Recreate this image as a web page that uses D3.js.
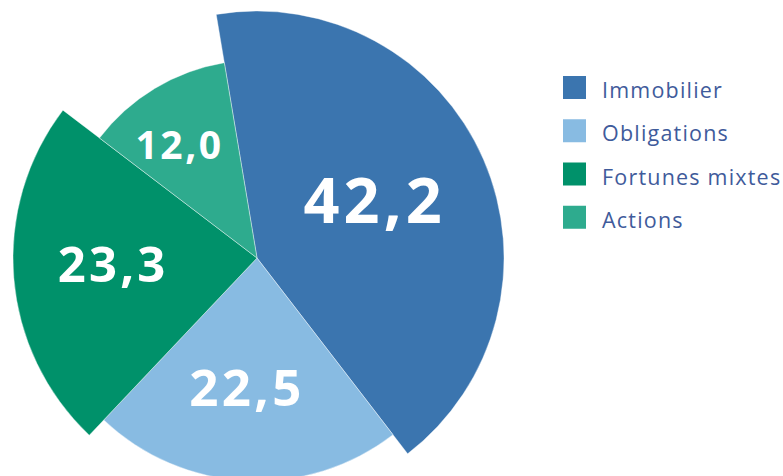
<!DOCTYPE html>
<html><head><meta charset="utf-8">
<script src="https://cdn.jsdelivr.net/npm/d3@7"></script>
<style>
html,body{margin:0;padding:0;background:#fff;}
svg{display:block;}
</style></head>
<body>
<svg id="chart" width="783" height="476"></svg>
<script>
const categories = ["Immobilier", "Obligations", "Fortunes mixtes", "Actions"];
const values = [42.2, 22.5, 23.3, 12.0];
const labels = ["42,2", "22,5", "23,3", "12,0"];
const radii = [247, 223, 244, 198];
const colors = ["#3b75af", "#88bbe2", "#00916a", "#2eab8e"];

const svg = d3.select("#chart");
const cx = 257, cy = 258;
const startDeg = -9.5;
const startRad = startDeg * Math.PI / 180;

const pie = d3.pie().sort(null).value(d => d)
  .startAngle(startRad).endAngle(startRad + 2 * Math.PI);
const arcs = pie(values);

const g = svg.append("g").attr("transform", `translate(${cx},${cy})`);

g.selectAll("path.slice").data(arcs).enter().append("path")
  .attr("class", "slice")
  .attr("d", (d, i) => d3.arc().innerRadius(0).outerRadius(radii[i])(d))
  .attr("fill", (d, i) => colors[i])
  .attr("stroke", "#fff").attr("stroke-width", 0.4);

const labelSize = [63, 51, 49, 39];
const labelR = [131, 130, 144, 137];
const labelShift = [-2.5, 1.5, 2, -3.3]; // angular fine-tune, degrees
g.selectAll("text.val").data(arcs).enter().append("text")
  .attr("class", "val")
  .attr("transform", (d, i) => {
    const a = (d.startAngle + d.endAngle) / 2 + labelShift[i] * Math.PI / 180;
    const x = Math.sin(a) * labelR[i], y = -Math.cos(a) * labelR[i];
    return `translate(${x},${y})`;
  })
  .attr("text-anchor", "middle")
  .attr("dy", "0.36em")
  .attr("fill", "#fff")
  .style("font-family", "'Open Sans', sans-serif")
  .style("font-weight", 700)
  .style("font-size", (d, i) => labelSize[i] + "px")
  .style("letter-spacing", (d, i) => (labelSize[i] * 0.065) + "px")
  .text((d, i) => labels[i]);

const legend = svg.append("g").attr("transform", "translate(563,76)");
const ly = d3.scaleBand().domain(categories).range([0, 173]);
const items = legend.selectAll("g").data(categories).enter().append("g")
  .attr("transform", d => `translate(0,${ly(d)})`);
items.append("rect").attr("width", 23).attr("height", 23)
  .attr("fill", (d, i) => colors[i]);
items.append("text").attr("x", 39).attr("y", 22)
  .attr("fill", "#3f5b9b")
  .style("font-family", "'Open Sans', sans-serif")
  .style("font-size", "21.5px")
  .style("letter-spacing", "1.2px")
  .text(d => d);
</script>
</body></html>
